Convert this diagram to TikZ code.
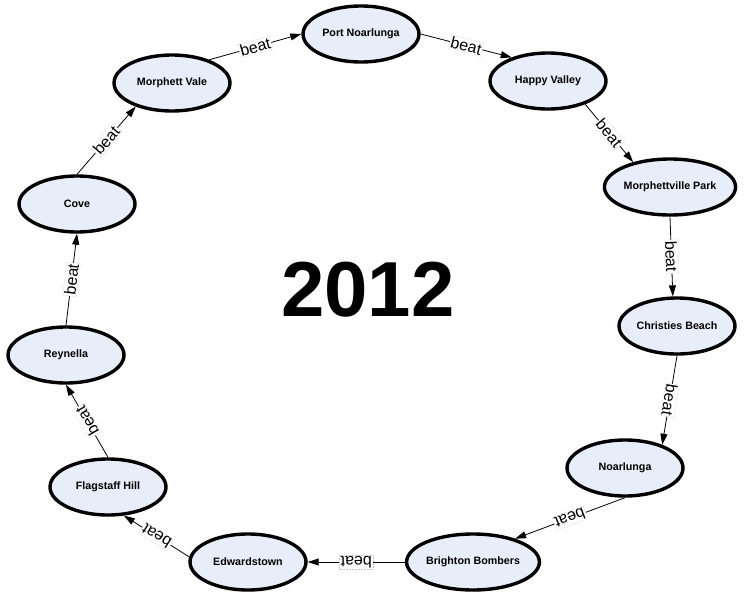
\documentclass[tikz,border=0pt]{standalone}
\usepackage{fontspec}
\setmainfont{Liberation Sans}
\setsansfont{Liberation Sans}
\usetikzlibrary{arrows.meta,shapes.geometric}
\definecolor{teamfill}{RGB}{232,238,249}

\begin{document}
\begin{tikzpicture}[x=1pt,y=-1pt,>={Triangle[length=11pt,width=7pt]},
                    team node/.style={ellipse,draw,line width=3.4pt,fill=teamfill,
                      minimum width=116pt,minimum height=56pt,inner sep=0pt,
                      font=\sffamily\bfseries\fontsize{10.7}{12}\selectfont},
                    beat label/.style={sloped,allow upside down,fill=white,
                      draw=gray!45,densely dotted,line width=0.5pt,inner sep=1pt,
                      font=\fontsize{16}{17}\selectfont}]
  \useasboundingbox (0,0) rectangle (750,611);

  \node[team node] (pn) at (361,34) {Port Noarlunga};
  \node[team node] (hv) at (548,81) {Happy Valley};
  \node[team node] (mv) at (172,83) {Morphett Vale};
  \node[team node] (mp) at (670,187) {Morphettville Park};
  \node[team node] (co) at (77,204) {Cove};
  \node[team node] (cb) at (677,326) {Christies Beach};
  \node[team node] (re) at (66,355) {Reynella};
  \node[team node] (no) at (625,468) {Noarlunga};
  \node[team node] (fh) at (108,487) {Flagstaff Hill};
  \node[team node] (ed) at (248,562) {Edwardstown};
  \node[team node] (bb) at (473,562) {Brighton Bombers};

  \node (year) at (368,290) {\fontsize{78}{84}\selectfont\bfseries 2012};

  \path[->,line width=0.8pt]
    (mv.32) edge node[beat label] {beat} (pn.west)
    (pn.east) edge node[beat label] {beat} (hv.147)
    (hv.-32) edge node[beat label] {beat} (mp.146)
    (mp.south) edge node[beat label] {beat} (cb.98)
    (cb.south) edge node[beat label] {beat} (no.32)
    (no.south) edge node[beat label] {beat} (bb.29)
    (bb.west) edge node[beat label] {beat} (ed.east)
    (ed.175) edge node[beat label] {beat} (fh.-61)
    (fh.north) edge node[beat label] {beat} (re.south)
    (re.north) edge node[beat label] {beat} (co.south)
    (co.north) edge node[beat label] {beat} (mv.-147);
\end{tikzpicture}
\end{document}
